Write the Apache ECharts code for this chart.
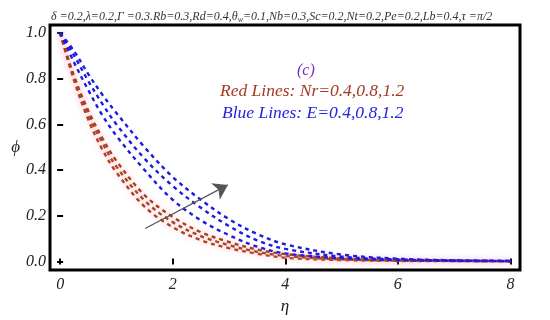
<!DOCTYPE html>
<html><head><meta charset="utf-8">
<script src="https://cdn.jsdelivr.net/npm/echarts@6/dist/echarts.min.js"></script>
<style>html,body{margin:0;padding:0;background:#fff}#c{width:550px;height:320px}</style>
</head><body><div id="c"></div>
<script>
const eta = [0, 0.25, 0.5, 0.75, 1, 1.5, 2, 2.5, 3, 3.5, 4, 5, 6, 7, 8];
const red1 = [1, 0.79, 0.62, 0.49, 0.39, 0.24, 0.15, 0.093, 0.058, 0.034, 0.016, 0.006, 0.002, 0.001, 0];
const red2 = [1, 0.80, 0.64, 0.52, 0.415, 0.267, 0.172, 0.111, 0.071, 0.042, 0.024, 0.009, 0.004, 0.002, 0.001];
const red3 = [1, 0.81, 0.66, 0.54, 0.44, 0.29, 0.195, 0.128, 0.085, 0.052, 0.032, 0.013, 0.006, 0.003, 0.001];
const blue1 = [1, 0.87, 0.75, 0.64, 0.55, 0.40, 0.27, 0.18, 0.115, 0.065, 0.035, 0.014, 0.006, 0.003, 0.001];
const blue2 = [1, 0.90, 0.79, 0.69, 0.60, 0.45, 0.33, 0.235, 0.155, 0.092, 0.055, 0.021, 0.009, 0.004, 0.002];
const blue3 = [1, 0.92, 0.82, 0.73, 0.65, 0.50, 0.37, 0.27, 0.185, 0.12, 0.075, 0.03, 0.012, 0.005, 0.003];
const xTicks = [0, 2, 4, 6, 8];
const yTicks = [0, 0.2, 0.4, 0.6, 0.8, 1.0];
const arrowFrom = [1.51, 0.144];
const arrowTo = [2.98, 0.335];
const titleText = "δ =0.2,λ=0.2,Γ =0.3.Rb=0.3,Rd=0.4,θ";
const titleTail = "=0.1,Nb=0.3,Sc=0.2,Nt=0.2,Pe=0.2,Lb=0.4,τ =π/2";
const redLabel = "Red Lines: Nr=0.4,0.8,1.2";
const blueLabel = "Blue Lines: E=0.4,0.8,1.2";

const serif = "'Liberation Serif','DejaVu Serif',serif";
const RED = '#a8401e', BLUE = '#1c1ce0';
function pts(arr){ return eta.map((e,i)=>[e, arr[i]]); }
function ser(arr, color, pink){
  return {type:'line', data:pts(arr), smooth:0.35, showSymbol:false, silent:true,
    lineStyle:{color, width:2.4, type:[4,4],
      shadowColor: pink ? 'rgba(255,140,170,0.55)' : 'rgba(0,0,0,0)', shadowBlur: pink?6:0}};
}
const chart = echarts.init(document.getElementById('c'), null, {renderer:'canvas'});
const axLabel = {fontFamily:serif, fontStyle:'italic', fontSize:16, color:'#222'};
const tick = {show:true, inside:true, length:3, lineStyle:{color:'#000', width:2}};
chart.setOption({
  animation:false,
  grid:{left:50, right:30, top:25, bottom:42, show:true, borderColor:'#000', borderWidth:3},
  xAxis:[
    {type:'value', min:-0.18, max:8.17, position:'bottom',
     axisLine:{show:false}, splitLine:{show:false},
     axisTick:Object.assign({customValues:xTicks}, tick),
     axisLabel:Object.assign({customValues:xTicks, margin:7}, axLabel),
     name:'η', nameLocation:'middle', nameGap:26, nameTextStyle:{fontFamily:serif, fontStyle:'italic', fontSize:17, color:'#222'}},
    {type:'value', min:-0.18, max:8.17, position:'top',
     axisLine:{show:false}, splitLine:{show:false}, axisLabel:{show:false},
     axisTick:Object.assign({customValues:xTicks}, tick)}
  ],
  yAxis:[
    {type:'value', min:-0.038, max:1.035, position:'left',
     axisLine:{show:false}, splitLine:{show:false},
     axisTick:Object.assign({customValues:yTicks}, tick),
     axisLabel:Object.assign({customValues:yTicks, margin:4, formatter:v=>v.toFixed(1)}, axLabel),
     name:'ϕ', nameLocation:'middle', nameGap:30, nameRotate:0, nameTextStyle:{fontFamily:serif, fontStyle:'italic', fontSize:17, color:'#222'}},
    {type:'value', min:-0.038, max:1.035, position:'right',
     axisLine:{show:false}, splitLine:{show:false}, axisLabel:{show:false},
     axisTick:Object.assign({customValues:yTicks}, tick)}
  ],
  title:{text:'{a|'+titleText+'}{s|w}{a|'+titleTail+'}', left:46, top:5,
    textStyle:{fontWeight:'normal', rich:{a:{fontFamily:serif, fontStyle:'italic', fontWeight:'normal', fontSize:12, color:'#333'},
                     s:{fontFamily:serif, fontStyle:'italic', fontWeight:'normal', fontSize:8, color:'#333', verticalAlign:'bottom', padding:[6,0,0,0]}}}},
  graphic:[
    {type:'text', left:297, top:63, style:{text:'(c)', fontFamily:serif, fontStyle:'italic', fontSize:16, fill:'#7a30c0'}},
    {type:'text', left:220, top:82, style:{text:redLabel, fontFamily:serif, fontStyle:'italic', fontSize:17.5, fill:'#a33a22'}},
    {type:'text', left:222, top:104, style:{text:blueLabel, fontFamily:serif, fontStyle:'italic', fontSize:17.5, fill:'#2424dd'}}
  ],
  series:[
    ser(red1, RED, true), ser(red2, RED, true), ser(red3, RED, true),
    ser(blue1, BLUE, false), ser(blue2, BLUE, false), ser(blue3, BLUE, false),
    {type:'line', data:[], silent:true,
     markLine:{silent:true, symbol:['none','arrow'], symbolSize:14,
       label:{show:false}, lineStyle:{color:'#555', width:1.2, type:'solid'},
       itemStyle:{color:'#000'}, emphasis:{disabled:true},
       data:[[{coord:arrowFrom},{coord:arrowTo, itemStyle:{color:'#000'}}]]}}
  ]
});
</script></body></html>
